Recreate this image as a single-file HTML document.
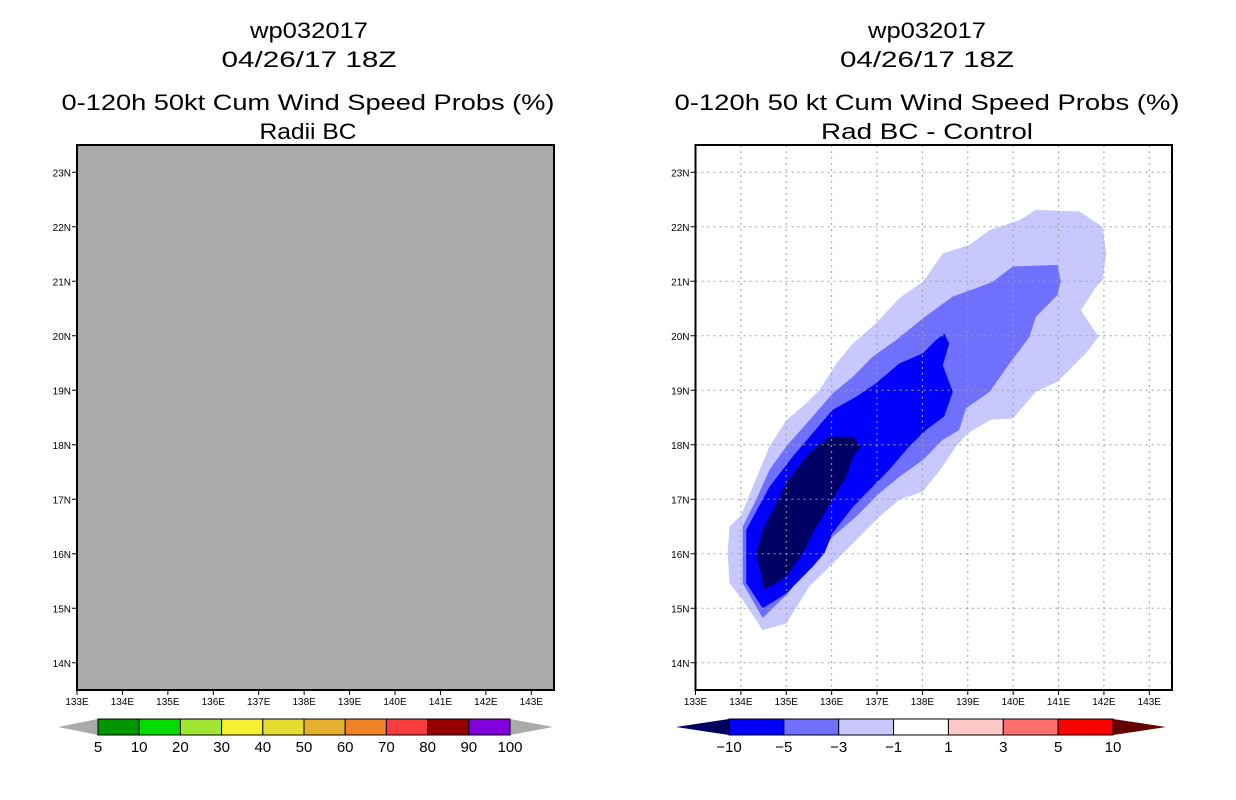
<!DOCTYPE html>
<html><head><meta charset="utf-8">
<style>
html,body{margin:0;padding:0;background:#fff;}
svg{display:block;font-family:"Liberation Sans",sans-serif;}
.t{font-size:22px;}
.tk{font-size:10px;}
.cb{font-size:15px;}
</style></head>
<body>
<svg id="fig" width="1236" height="800" viewBox="0 0 1236 800" xmlns="http://www.w3.org/2000/svg">
<rect width="1236" height="800" fill="#fff"/>
<g class="t" text-anchor="middle" fill="#000">
<text x="309" y="38" textLength="118" lengthAdjust="spacingAndGlyphs">wp032017</text>
<text x="309" y="67" textLength="175" lengthAdjust="spacingAndGlyphs">04/26/17 18Z</text>
<text x="308" y="110" textLength="493" lengthAdjust="spacingAndGlyphs">0-120h 50kt Cum Wind Speed Probs (%)</text>
<text x="308" y="139" textLength="97" lengthAdjust="spacingAndGlyphs">Radii BC</text>
</g>
<g class="t" text-anchor="middle" fill="#000">
<text x="927" y="38" textLength="118" lengthAdjust="spacingAndGlyphs">wp032017</text>
<text x="927" y="67" textLength="174" lengthAdjust="spacingAndGlyphs">04/26/17 18Z</text>
<text x="927" y="110" textLength="505" lengthAdjust="spacingAndGlyphs">0-120h 50 kt Cum Wind Speed Probs (%)</text>
<text x="927" y="139" textLength="212" lengthAdjust="spacingAndGlyphs">Rad BC - Control</text>
</g>
<g id="left"></g>
<g id="right"></g>
<g id="cbl"></g>
<g id="cbr"></g>
</svg>
<script>
const lonTicks=[133,134,135,136,137,138,139,140,141,142,143];
const latTicks=[14,15,16,17,18,19,20,21,22,23];
const lonRange=[133,143.5], latRange=[13.5,23.5];
const poly1=[[140.50,22.31],[141.46,22.28],[141.97,22.00],[142.05,21.51],[141.97,21.02],[141.83,20.90],[141.49,20.47],[141.88,19.98],[141.60,19.68],[140.98,19.16],[140.50,18.97],[139.99,18.48],[139.51,18.46],[139.00,18.21],[138.74,17.97],[138.45,17.60],[138.01,17.14],[137.49,16.99],[137.05,16.68],[136.25,16.01],[135.51,15.40],[135.00,14.72],[134.48,14.60],[134.04,15.15],[133.75,15.46],[133.71,16.01],[133.75,16.50],[134.01,16.71],[134.26,17.23],[134.63,17.97],[135.00,18.45],[135.44,18.76],[135.73,19.00],[136.10,19.49],[136.47,19.86],[136.98,20.23],[137.49,20.69],[138.01,20.99],[138.45,21.51],[139.04,21.67],[139.48,21.94],[140.14,22.12]];
const poly3=[[139.99,21.27],[140.98,21.30],[141.05,20.99],[140.98,20.75],[140.50,20.35],[140.36,19.98],[139.92,19.49],[139.48,18.97],[138.96,18.67],[138.81,18.27],[138.45,18.09],[138.01,17.72],[137.49,17.41],[137.05,17.11],[136.54,16.68],[136.02,16.31],[135.58,15.89],[135.07,15.30],[134.48,14.82],[134.04,15.46],[134.04,16.50],[134.30,16.93],[134.63,17.54],[135.00,17.97],[135.51,18.45],[136.02,18.94],[136.47,19.25],[136.91,19.62],[137.42,19.92],[138.01,20.32],[138.67,20.72],[139.18,20.87],[139.55,20.99]];
const poly5=[[138.48,20.04],[138.59,19.86],[138.45,19.46],[138.67,18.97],[138.48,18.52],[138.08,18.27],[137.71,17.97],[137.27,17.54],[136.76,17.11],[136.47,16.86],[136.02,16.38],[135.84,16.01],[135.58,15.76],[135.00,15.27],[134.48,15.00],[134.12,15.46],[134.12,16.44],[134.63,17.23],[135.14,17.78],[135.58,18.21],[136.02,18.64],[136.54,18.88],[136.98,19.13],[137.49,19.49],[138.01,19.68],[138.30,19.92]];
const poly10=[[135.95,18.15],[136.47,18.15],[136.65,17.97],[136.47,17.78],[136.32,17.41],[136.10,17.11],[135.88,16.80],[135.58,16.38],[135.40,16.05],[135.00,15.58],[134.52,15.34],[134.34,16.01],[134.48,16.44],[134.78,16.93],[135.00,17.30],[135.22,17.54],[135.51,17.85]];
const leftLevels=["5","10","20","30","40","50","60","70","80","90","100"];
const leftColors=["#009600","#00dc00","#a0e632","#f5f032","#e6dc32","#e6af2d","#f08228","#fa3c3c","#960000","#8200dc"];
const rightLevels=["-10","-5","-3","-1","1","3","5","10"];
const rightColors=["#0000ff","#7070ff","#c8c8ff","#ffffff","#ffc8c8","#ff6e6e","#ff0000"];
const NS="http://www.w3.org/2000/svg";
function mk(p,t,a){const e=document.createElementNS(NS,t);for(const k in a)e.setAttribute(k,a[k]);p.appendChild(e);return e;}
function panel(g,x0,x1,y0,y1,grid,bg){
  const sx=v=>x0+(v-lonRange[0])/(lonRange[1]-lonRange[0])*(x1-x0);
  const sy=v=>y1-(v-latRange[0])/(latRange[1]-latRange[0])*(y1-y0);
  const r=mk(g,'rect',{x:x0,y:y0,width:x1-x0,height:y1-y0,fill:bg});
  
  
  return {sx,sy,finish(){
    if(grid){
      lonTicks.forEach(v=>{const l=mk(g,'line',{x1:sx(v),x2:sx(v),y1:y0,y2:y1,stroke:'#a0a0a0','stroke-dasharray':'2,4'});
        });
      latTicks.forEach(v=>{const l=mk(g,'line',{x1:x0,x2:x1,y1:sy(v),y2:sy(v),stroke:'#a0a0a0','stroke-dasharray':'2,4'});
        });
    }
    const f=mk(g,'rect',{x:x0,y:y0,width:x1-x0,height:y1-y0,fill:'none',stroke:'#000','stroke-width':2});
    
    lonTicks.forEach(v=>{mk(g,'line',{x1:sx(v),x2:sx(v),y1:y1,y2:y1+5,stroke:'#000'});
      const t=mk(g,'text',{x:sx(v),y:y1+15,'text-anchor':'middle',class:'tk'});t.textContent=v+'E';
      });
    latTicks.forEach(v=>{mk(g,'line',{x1:x0-5,x2:x0,y1:sy(v),y2:sy(v),stroke:'#000'});
      const t=mk(g,'text',{x:x0-6,y:sy(v)+4,'text-anchor':'end',class:'tk'});t.textContent=v+'N';
      });
  }};
}
const L=panel(document.getElementById('left'),77,554,145,690,false,'#aaaaaa');L.finish();
const rg=document.getElementById('right');
const R=panel(rg,695.5,1172,145,690,true,'#ffffff');
[[poly1,'#c8c8ff','contour-minus1'],[poly3,'#7070ff','contour-minus3'],[poly5,'#0000ff','contour-minus5'],[poly10,'#000064','contour-minus10']].forEach(([p,c,n])=>{
  const e=mk(rg,'polygon',{points:p.map(q=>R.sx(q[0]).toFixed(1)+','+R.sy(q[1]).toFixed(1)).join(' '),fill:c});
  
});
R.finish();
function colorbar(g,tipL,tipR,x0,x1,colors,levels,lc,rc){
  const y0=719,y1=735,ym=727,n=colors.length,w=(x1-x0)/n;
  const a=mk(g,'polygon',{points:`${tipL},${ym} ${x0},${y0} ${x0},${y1}`,fill:lc});
  
  const b=mk(g,'polygon',{points:`${tipR},${ym} ${x1},${y0} ${x1},${y1}`,fill:rc});
  
  colors.forEach((c,i)=>{const r=mk(g,'rect',{x:x0+i*w,y:y0,width:w,height:y1-y0,fill:c,stroke:'#000','stroke-width':1});
    });
  levels.forEach((s,i)=>{const t=mk(g,'text',{x:x0+i*w,y:y1+17,'text-anchor':'middle',class:'cb'});t.textContent=s.replace('-','\u2212');
    });
}
colorbar(document.getElementById('cbl'),58,553,98,510,leftColors,leftLevels,'#aaaaaa','#aaaaaa');
colorbar(document.getElementById('cbr'),676,1166,729,1113,rightColors,rightLevels,'#000064','#640000');
</script>
</body></html>
